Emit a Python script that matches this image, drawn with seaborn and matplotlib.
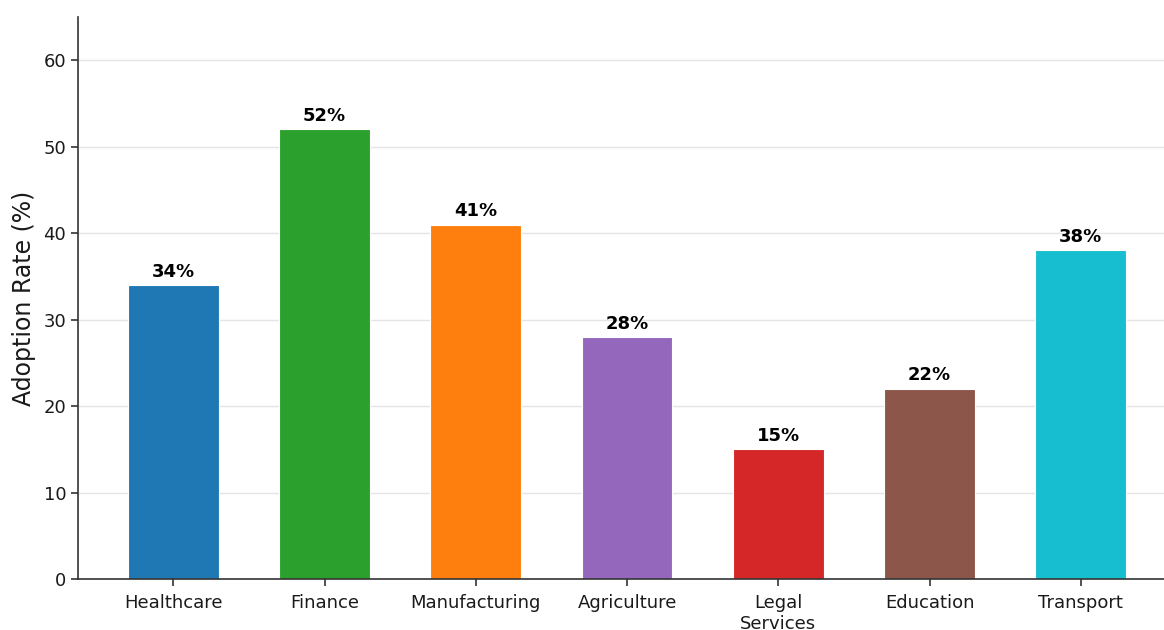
import matplotlib
matplotlib.use("Agg")
import matplotlib.pyplot as plt
import seaborn as sns
import pandas as pd

categories = ["Healthcare", "Finance", "Manufacturing", "Agriculture", "Legal\nServices", "Education", "Transport"]
adoption = [34, 52, 41, 28, 15, 22, 38]
colors = ["#1f77b4", "#2ca02c", "#ff7f0e", "#9467bd", "#d62728", "#8c564b", "#17becf"]
yticks = [0, 10, 20, 30, 40, 50, 60]

sns.set_style("white")
plt.rcParams['font.family'] = ['DejaVu Sans']

df = pd.DataFrame({"Sector": categories, "Adoption": adoption})

fig = plt.figure(figsize=(11.64, 6.3), dpi=100)
ax = fig.add_axes([78/1164, 1 - 579/630, 1 - 78/1164, (579 - 17)/630])

sns.barplot(data=df, x="Sector", y="Adoption", hue="Sector", palette=colors,
            width=0.6, edgecolor="white", linewidth=0.8, legend=False, ax=ax, saturation=1)

for p, v in zip(ax.patches, adoption):
    ax.text(p.get_x() + p.get_width() / 2, p.get_height() + 0.5, f"{v}%",
            ha="center", va="bottom", fontsize=13, fontweight="bold", color="black")

ax.set_ylim(0, 65)
ax.set_xlim(-0.63, 6.55)
ax.set_yticks(yticks)
ax.yaxis.grid(True, color="#e5e5e5", linewidth=1)
ax.set_axisbelow(True)
ax.set_xlabel("")
ax.set_ylabel("Adoption Rate (%)", fontsize=17, color="#1a1a1a", labelpad=5)
ax.tick_params(axis="both", labelsize=13, length=5, width=1.2, color="#333333",
               labelcolor="#1a1a1a", bottom=True, left=True)
ax.tick_params(axis="x", pad=6)
for s in ["top", "right"]:
    ax.spines[s].set_visible(False)
for s in ["left", "bottom"]:
    ax.spines[s].set_color("#333333")
    ax.spines[s].set_linewidth(1.2)

fig.savefig("out.png", dpi=100)
